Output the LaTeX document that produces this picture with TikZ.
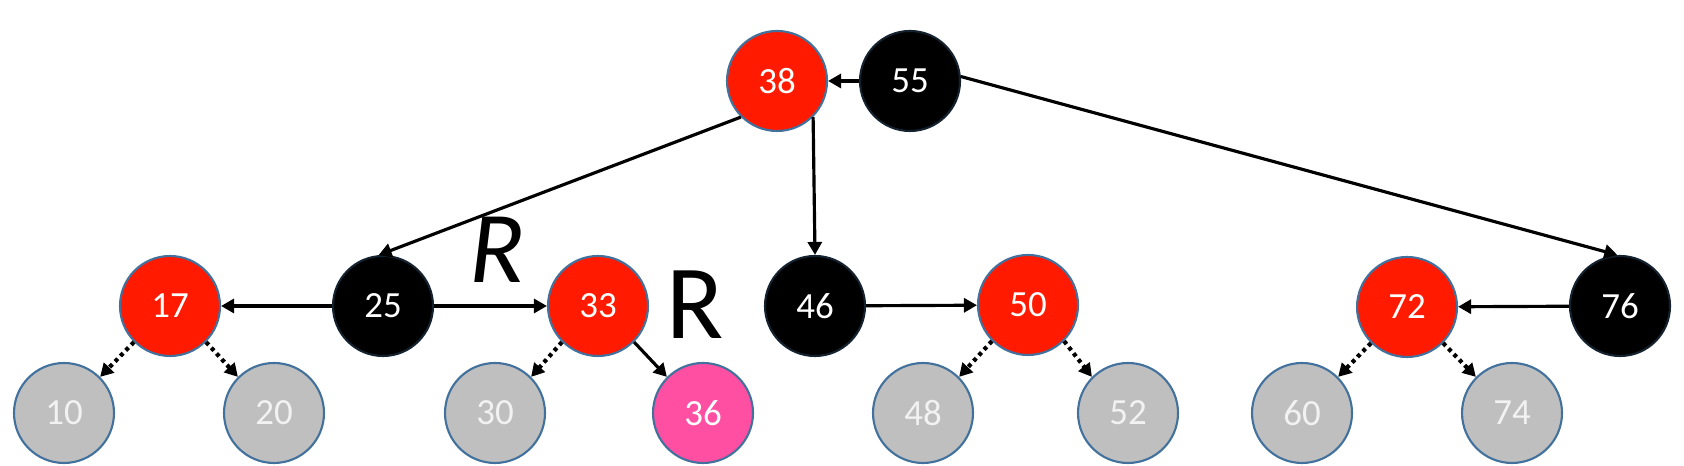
\documentclass[tikz,border=0pt]{standalone}
\usepackage{fontspec}
\setmainfont{Carlito}
\usetikzlibrary{arrows.meta}
\definecolor{keyred}{HTML}{FF1A00}
\definecolor{keyblack}{HTML}{000000}
\definecolor{keygray}{HTML}{BFBFBF}
\definecolor{keypink}{HTML}{FF4FA3}
\definecolor{keyedge}{HTML}{41719C}
\begin{document}
\begin{tikzpicture}

	\tikzset{
	  key/.style={
		circle,
		draw=keyedge,
		line width=0.6pt,
		minimum size=1.0cm,
		inner sep=0pt,
		text=white,
		font=\fontsize{10.5}{12}\selectfont,
	  },
	  redkey/.style={key, fill=keyred},
	  blackkey/.style={key, fill=keyblack, draw=keyblack!70!keyedge},
	  graykey/.style={key, fill=keygray, text=white!95!black},
	  pinkkey/.style={key, fill=keypink},
	  link/.style={line width=0.9pt, -{Triangle[length=1.3mm,width=1.4mm]}},
	  nillink/.style={link, line width=1.2pt, dash pattern=on 1.1pt off 1.1pt},
	  rotmark/.style={inner sep=0pt, text=black},
	}
	\useasboundingbox (0,0) rectangle (16.84,4.66);
	\node[redkey] (n38) at (7.77,3.85) {38};
	\node[blackkey] (n55) at (9.10,3.85) {55};
	\node[redkey] (n17) at (1.70,1.60) {17};
	\node[blackkey] (n25) at (3.83,1.60) {25};
	\node[redkey] (n33) at (5.98,1.60) {33};
	\node[blackkey] (n46) at (8.15,1.60) {46};
	\node[redkey] (n50) at (10.28,1.61) {50};
	\node[redkey] (n72) at (14.07,1.59) {72};
	\node[blackkey] (n76) at (16.20,1.60) {76};
	\node[graykey] (n10) at (0.64,0.53) {10};
	\node[graykey] (n20) at (2.74,0.53) {20};
	\node[graykey] (n30) at (4.95,0.53) {30};
	\node[pinkkey] (n36) at (7.03,0.53) {36};
	\node[graykey] (n48) at (9.23,0.53) {48};
	\node[graykey] (n52) at (11.28,0.53) {52};
	\node[graykey] (n60) at (13.02,0.53) {60};
	\node[graykey] (n74) at (15.12,0.53) {74};
	\node[rotmark, font=\fontsize{29}{32}\selectfont\itshape] (r25) at (4.97,2.16) {R};
	\node[rotmark, font=\fontsize{30}{33}\selectfont] (r33) at (6.95,1.61) {R};
	\draw[link] (n55) -- (n38);
	\draw[link] (n38.225) -- (n25.95);
	\draw[link] (n38.315) -- (n46.north);
	\draw[link] (n55.5) -- (n76.93);
	\draw[link] (n25) -- (n17);
	\draw[link] (n25) -- (n33);
	\draw[link] (n46) -- (n50);
	\draw[link] (n76) -- (n72);
	\draw[link] (n33.315) -- (n36.135);
	\draw[nillink] (n17.225) -- (n10.45);
	\draw[nillink] (n17.315) -- (n20.135);
	\draw[nillink] (n33.225) -- (n30.45);
	\draw[nillink] (n50.225) -- (n48.45);
	\draw[nillink] (n50.315) -- (n52.135);
	\draw[nillink] (n72.225) -- (n60.45);
	\draw[nillink] (n72.315) -- (n74.135);

\end{tikzpicture}
\end{document}
